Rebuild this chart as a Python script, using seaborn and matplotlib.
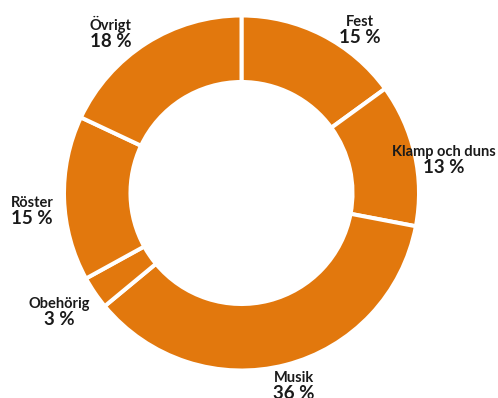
import matplotlib
matplotlib.use("Agg")
import matplotlib.pyplot as plt
import matplotlib.transforms as mtransforms
import seaborn as sns

categories = ["Fest", "Klamp och duns", "Musik", "Obehörig", "Röster", "Övrigt"]
values = [15, 13, 36, 3, 15, 18]
pct_labels = ["15 %", "13 %", "36 %", "3 %", "15 %", "18 %"]

# label anchor (name baseline centre) in pie data units
label_x = [0.675, 1.154, 0.299, -1.040, -1.194, -0.744]
label_y = [0.952, 0.211, -1.077, -0.655, -0.080, 0.929]

sns.set_theme(style="white")
plt.rcParams["font.family"] = ["Lato", "DejaVu Sans"]

color = "#E2780D"
W, H, DPI = 498, 398, 100
fig = plt.figure(figsize=(W / DPI, H / DPI), dpi=DPI)
ax = fig.add_axes([0, 0, 1, 1])

scale = 175.5  # px per unit
cx, cy = 241.5, 193.0

lw_px = 4.0
r_out = 1.0 + (lw_px / 2) / scale
width = 0.356 + lw_px / scale
ax.pie(values, startangle=90, counterclock=False, colors=[color] * len(values),
       radius=r_out, frame=True,
       wedgeprops=dict(width=width, edgecolor="white", linewidth=lw_px * 72 / DPI))
ax.set_xlim(-cx / scale, (W - cx) / scale)
ax.set_ylim(-(H - cy) / scale, cy / scale)
ax.set_aspect("auto")
ax.axis("off")

off = mtransforms.offset_copy(ax.transData, fig=fig, x=0, y=-17 * 72 / DPI, units="points")
for name, pct, x, y in zip(categories, pct_labels, label_x, label_y):
    ax.text(x, y, name, ha="center", va="baseline", fontsize=10.5,
            fontweight="bold", color="#1a1a1a")
    ax.text(x, y, pct, ha="center", va="baseline", fontsize=13.5,
            fontweight="bold", color="#1a1a1a", transform=off)

fig.savefig("out.png", dpi=DPI)
